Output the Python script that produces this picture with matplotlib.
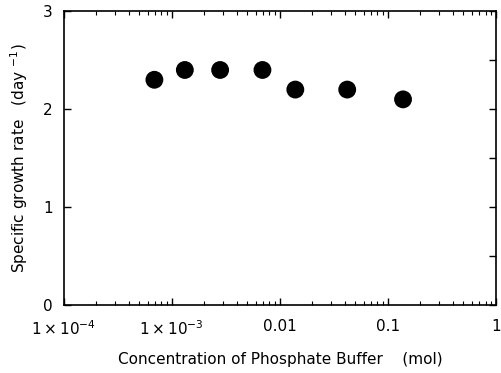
import matplotlib
matplotlib.use("Agg")
import matplotlib.pyplot as plt
from matplotlib.ticker import FixedLocator, LogLocator, NullFormatter

# data
conc = [0.00069, 0.00132, 0.0028, 0.0069, 0.0139, 0.042, 0.138]
rate = [2.3, 2.4, 2.4, 2.4, 2.2, 2.2, 2.1]

xticks = [1e-4, 1e-3, 1e-2, 1e-1, 1]
xticklabels = [r"$1\times10^{-4}$", r"$1\times10^{-3}$", "0.01", "0.1", "1"]
yticks = [0, 1, 2, 3]

plt.rcParams["font.family"] = ["DejaVu Sans"]
plt.rcParams["mathtext.fontset"] = "dejavusans"

fig = plt.figure(figsize=(5.02, 3.73), dpi=100)
ax = fig.add_axes([0.127, 0.182, 0.861, 0.788])

ax.scatter(conc, rate, s=165, c="black", edgecolors="none", zorder=3)

ax.set_xscale("log")
ax.set_xlim(1e-4, 1)
ax.set_ylim(0, 3)

ax.set_xticks(xticks)
ax.set_xticklabels(xticklabels, fontsize=11)
ax.xaxis.set_minor_locator(LogLocator(base=10, subs=range(2, 10)))
ax.xaxis.set_minor_formatter(NullFormatter())

ax.set_yticks(yticks)
ax.set_yticklabels([str(v) for v in yticks], fontsize=11)
ax.yaxis.set_minor_locator(FixedLocator([0.5, 1.5, 2.5]))

ax.tick_params(which="major", direction="in", length=5, width=1,
               top=True, right=True, pad=8)
ax.tick_params(axis="x", which="major", pad=10)
ax.tick_params(axis="x", which="minor", direction="in", length=3, width=0.8,
               top=True, bottom=True)
ax.tick_params(axis="y", which="minor", direction="in", length=5, width=1,
               left=False, right=True)

for sp in ax.spines.values():
    sp.set_linewidth(1.2)

ax.set_xlabel("Concentration of Phosphate Buffer    (mol)", fontsize=11, labelpad=10)
ax.set_ylabel(r"Specific growth rate   (day $^{-1}$)", fontsize=11, labelpad=9)

fig.savefig("out.png", dpi=100)
